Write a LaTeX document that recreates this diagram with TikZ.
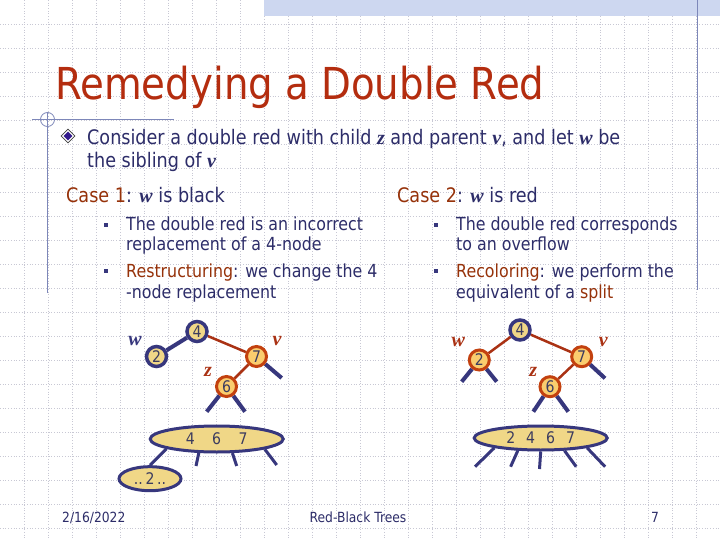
\documentclass[tikz,border=0pt]{standalone}
\usepackage{fontspec}
\setmainfont{DejaVu Sans}[FakeStretch=0.88]
\newfontfamily\varfont{Liberation Serif}
\usetikzlibrary{shapes.geometric,backgrounds}
\definecolor{TitleRed}{RGB}{180,45,15}
\definecolor{TextNavy}{RGB}{45,45,105}
\definecolor{CaseRed}{RGB}{150,50,10}
\definecolor{NodeNavy}{RGB}{55,55,125}
\definecolor{NodeTan}{RGB}{240,215,135}
\definecolor{NodeOrange}{RGB}{195,65,15}
\definecolor{NodeGold}{RGB}{250,205,110}
\definecolor{EdgeRed}{RGB}{170,50,20}
\definecolor{DigitGray}{RGB}{60,60,95}
\definecolor{GridGray}{RGB}{200,200,212}
\definecolor{RuleBlue}{RGB}{125,135,185}
\definecolor{BandBlue}{RGB}{205,215,240}
\definecolor{DiamondInk}{RGB}{50,25,140}
\newcommand{\mvar}[1]{{\varfont\bfseries\itshape #1}}

\begin{document}
\begin{tikzpicture}[x=1pt,y=-1pt,
    blk/.style={circle,draw=NodeNavy,fill=NodeTan,line width=3.5pt,
                minimum size=20pt,inner sep=0pt,text=DigitGray,
                font=\fontsize{16}{16}\selectfont},
    rd/.style={blk,draw=NodeOrange,fill=NodeGold,line width=3pt},
    bnode/.style={ellipse,draw=NodeNavy,fill=NodeTan,line width=3pt,
                  inner sep=0pt,text=DigitGray,font=\fontsize{16}{16}\selectfont},
    bedge/.style={NodeNavy,line width=4pt},
    redge/.style={EdgeRed,line width=2.5pt},
    lbl/.style={font=\fontsize{20}{20}\selectfont\varfont\bfseries\itshape},
    txt/.style={anchor=base west,inner sep=0pt,align=left,text=TextNavy},
    sqbul/.style={rectangle,fill=NodeNavy,minimum size=4.5pt,inner sep=0pt},
    foot/.style={anchor=base,inner sep=0pt,text=TextNavy,
                 font=\fontsize{14}{14}\selectfont}]
  \useasboundingbox (0,0) rectangle (720,540);
  % paper grid and rules
  \begin{scope}[on background layer]
    \fill[white] (0,0) rectangle (720,540);
    \foreach \x in {24,48,...,696}
      \draw[GridGray,dotted,line width=0.7pt] (\x,0) -- (\x,540);
    \foreach \y in {24,48,...,528}
      \draw[GridGray,dotted,line width=0.7pt] (0,\y) -- (720,\y);
  \end{scope}
  \fill[BandBlue] (264,0) rectangle (720,16);
  \draw[RuleBlue,line width=1pt] (697,0) -- (697,290);
  \draw[RuleBlue,line width=1pt] (32,120) -- (174,120);
  \draw[RuleBlue,line width=1pt] (47.5,112) -- (47.5,293);
  \draw[RuleBlue,line width=0.8pt] (47.5,119.5) circle (7);

  % title and text (base anchor = last line)
  \node[txt,text=TitleRed,font=\fontsize{44}{44}\selectfont] (title) at (55,100)
    {Remedying a Double Red};
  \node[diamond,draw=black!75,fill=white,minimum size=14pt,inner sep=0pt,
        line width=0.6pt] (dm) at (68,136) {};
  \node[diamond,fill=DiamondInk,minimum size=9pt,inner sep=0pt] at (dm) {};
  \node[txt,font=\fontsize{20}{24}\selectfont] (intro) at (87,168)
    {Consider a double red with child \mvar{z} and parent \mvar{v}, and let \mvar{w} be\\
     the sibling of \mvar{v}};
  \node[txt,font=\fontsize{20}{20}\selectfont] (case1) at (66,202.7)
    {\textcolor{CaseRed}{Case 1}: \mvar{w} is black};
  \node[txt,font=\fontsize{20}{20}\selectfont] (case2) at (397,202.7)
    {\textcolor{CaseRed}{Case 2}: \mvar{w} is red};
  \node[sqbul] at (106,225) {};
  \node[sqbul] at (106,271) {};
  \node[sqbul] at (436,225) {};
  \node[sqbul] at (436,271) {};
  \node[txt,font=\fontsize{18}{20.5}\selectfont] (c1a) at (126,251)
    {The double red is an incorrect\\replacement of a 4-node};
  \node[txt,font=\fontsize{18}{20.5}\selectfont] (c1b) at (126,298)
    {\textcolor{CaseRed}{Restructuring}: we change the 4\\-node replacement};
  \node[txt,font=\fontsize{18}{20.5}\selectfont] (c2a) at (456,251)
    {The double red corresponds\\to an overflow};
  \node[txt,font=\fontsize{18}{20.5}\selectfont] (c2b) at (456,298)
    {\textcolor{CaseRed}{Recoloring}: we perform the\\equivalent of a \textcolor{CaseRed}{split}};

  % case 1 tree
  \node[blk] (a4) at (197,331.5) {4};
  \node[blk] (a2) at (156.5,356.5) {2};
  \node[rd]  (a7) at (256.5,356.5) {7};
  \node[rd]  (a6) at (226.5,386.5) {6};
  \node[lbl,text=NodeNavy] (aw) at (135,341.5) {w};
  \node[lbl,text=EdgeRed] (av) at (277,341.5) {v};
  \node[lbl,text=EdgeRed] (az) at (208,371.5) {z};
  \coordinate (a7r) at (281.7,378);
  \coordinate (a6l) at (206.7,411.7);
  \coordinate (a6r) at (245,411.7);
  \node[bnode,minimum width=133pt,minimum height=26pt] (e467) at (216.7,439)
    {4\hspace{17.5pt}6\hspace{17.5pt}7};
  \node[bnode,minimum width=62pt,minimum height=24pt] (e2) at (150,478.7)
    {..\,2\,..};
  \coordinate (e1) at (196,466);
  \coordinate (e3) at (236.7,466);
  \coordinate (e4) at (276.7,465);

  % case 2 tree
  \node[blk] (b4) at (520,330) {4};
  \node[rd]  (b2) at (479.3,360) {2};
  \node[rd]  (b7) at (581.7,356.7) {7};
  \node[rd]  (b6) at (550,386.7) {6};
  \node[lbl,text=EdgeRed] (bw) at (458.3,342.3) {w};
  \node[lbl,text=EdgeRed] (bv) at (603.3,341.7) {v};
  \node[lbl,text=EdgeRed] (bz) at (533.3,371.7) {z};
  \coordinate (b2l) at (461.7,381.7);
  \coordinate (b2r) at (496.7,381.7);
  \coordinate (b7r) at (605,378.3);
  \coordinate (b6l) at (533.3,411.7);
  \coordinate (b6r) at (568.3,411.7);
  \node[bnode,minimum width=133pt,minimum height=24pt] (e2467) at (540.7,438)
    {2\hspace{11pt}4\hspace{11pt}6\hspace{11pt}7};
  \coordinate (f1) at (475,466.7);
  \coordinate (f2) at (510.6,466.7);
  \coordinate (f3) at (539.5,469);
  \coordinate (f4) at (576.2,466.7);
  \coordinate (f5) at (605.1,466.7);

  \begin{scope}[on background layer]
    \draw[bedge] (a4) -- (a2);
    \draw[redge] (a4) -- (a7);
    \draw[redge] (a7) -- (a6);
    \draw[bedge] (a7) -- (a7r);
    \draw[bedge] (a6) -- (a6l);
    \draw[bedge] (a6) -- (a6r);
    \draw[redge] (b4) -- (b2);
    \draw[redge] (b4) -- (b7);
    \draw[redge] (b7) -- (b6);
    \draw[bedge] (b2) -- (b2l);
    \draw[bedge] (b2) -- (b2r);
    \draw[bedge] (b7) -- (b7r);
    \draw[bedge] (b6) -- (b6l);
    \draw[bedge] (b6) -- (b6r);
    \draw[NodeNavy,line width=3pt] (e467.191) -- (e2.north);
    \draw[NodeNavy,line width=3pt] (e467.218) -- (e1);
    \draw[NodeNavy,line width=3pt] (e467.318) -- (e3);
    \draw[NodeNavy,line width=3pt] (e467.348.5) -- (e4);
    \draw[NodeNavy,line width=3pt] (e2467.192) -- (f1);
    \draw[NodeNavy,line width=3pt] (e2467.209) -- (f2);
    \draw[NodeNavy,line width=3pt] (e2467.270) -- (f3);
    \draw[NodeNavy,line width=3pt] (e2467.332.5) -- (f4);
    \draw[NodeNavy,line width=3pt] (e2467.348) -- (f5);
  \end{scope}

  % footer
  \node[foot,anchor=base west] (date) at (62,522) {2/16/2022};
  \node[foot] (topic) at (358,522) {Red-Black Trees};
  \node[foot] (page) at (655,522) {7};
\end{tikzpicture}
\end{document}
